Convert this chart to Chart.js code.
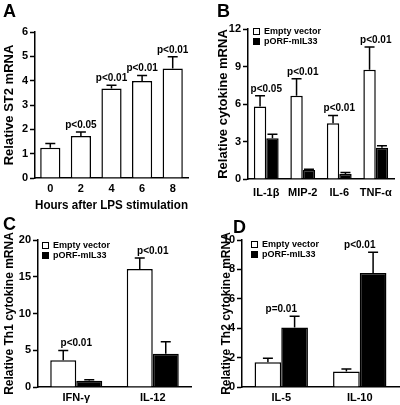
<!DOCTYPE html>
<html>
<head>
<meta charset="utf-8">
<script src="https://cdn.jsdelivr.net/npm/chart.js@4.4.1/dist/chart.umd.min.js"></script>
<style>
  body { margin: 0; background: #fff; }
  #wrap { position: relative; width: 400px; height: 405px; }
  canvas { position: absolute; }
</style>
</head>
<body>
<div id="wrap">
  <canvas id="chartA" width="200" height="215" style="left:0;top:0"></canvas>
  <canvas id="chartB" width="200" height="215" style="left:200px;top:0"></canvas>
  <canvas id="chartC" width="200" height="190" style="left:0;top:215px"></canvas>
  <canvas id="chartD" width="200" height="190" style="left:200px;top:215px"></canvas>
</div>
<script>
const FONT = "'Liberation Sans', Arial, sans-serif";
Chart.defaults.font.family = FONT;
Chart.defaults.color = '#000';

// A - ST2 after LPS
const hours = ['0', '2', '4', '6', '8'];
const st2Mean = [1.24, 1.73, 3.68, 3.99, 4.5];
const st2Err = [0.18, 0.16, 0.13, 0.22, 0.48];
const st2P = ['', 'p<0.05', 'p<0.01', 'p<0.01', 'p<0.01'];

// B - cytokines
const cytokines = ['IL-1β', 'MIP-2', 'IL-6', 'TNF-α'];
const cytEmpty = [5.8, 6.66, 4.47, 8.74];
const cytEmptyErr = [0.86, 1.36, 0.61, 1.82];
const cytOrf = [3.26, 0.72, 0.4, 2.51];
const cytOrfErr = [0.32, 0.06, 0.13, 0.16];
const cytP = ['p<0.05', 'p<0.01', 'p<0.01', 'p<0.01'];

// C - Th1
const th1 = ['IFN-γ', 'IL-12'];
const th1Empty = [3.63, 16.05];
const th1EmptyErr = [1.32, 1.5];
const th1Orf = [0.85, 4.54];
const th1OrfErr = [0.13, 1.6];
const th1P = ['p<0.01', 'p<0.01'];

// D - Th2
const th2 = ['IL-5', 'IL-10'];
const th2Empty = [1.69, 1.06];
const th2EmptyErr = [0.27, 0.16];
const th2Orf = [4.05, 7.75];
const th2OrfErr = [0.77, 1.42];
const th2P = ['p=0.01', 'p<0.01'];

const seriesNames = ['Empty vector', 'pORF-mIL33'];

const errorBars = {
    id: 'errorBars',
    afterDatasetsDraw(chart) {
        const ctx = chart.ctx;
        const yScale = chart.scales.y;
        ctx.save();
        ctx.strokeStyle = '#000';
        ctx.lineWidth = 1.5;
        chart.data.datasets.forEach((ds, di) => {
            chart.getDatasetMeta(di).data.forEach((bar, i) => {
                const top = yScale.getPixelForValue(ds.data[i] + ds.errors[i]);
                ctx.beginPath();
                ctx.moveTo(bar.x, bar.y);
                ctx.lineTo(bar.x, top);
                ctx.moveTo(bar.x - 5, top);
                ctx.lineTo(bar.x + 5, top);
                ctx.stroke();
            });
        });
        ctx.restore();
    }
};

const pValues = {
    id: 'pValues',
    afterDatasetsDraw(chart, args, opts) {
        const ctx = chart.ctx;
        const yScale = chart.scales.y;
        ctx.save();
        ctx.fillStyle = '#000';
        ctx.font = 'bold 10px ' + FONT;
        ctx.textAlign = 'center';
        ctx.textBaseline = 'bottom';
        opts.labels.forEach((txt, i) => {
            if (!txt) return;
            let sumX = 0;
            let top = Infinity;
            chart.data.datasets.forEach((ds, di) => {
                const bar = chart.getDatasetMeta(di).data[i];
                sumX += bar.x;
                top = Math.min(top, yScale.getPixelForValue(ds.data[i] + ds.errors[i]));
            });
            ctx.fillText(txt, sumX / chart.data.datasets.length, top - 2);
        });
        ctx.restore();
    }
};

const panelDeco = {
    id: 'panelDeco',
    afterDraw(chart, args, opts) {
        const ctx = chart.ctx;
        ctx.save();
        ctx.fillStyle = '#000';
        ctx.font = 'bold 18px ' + FONT;
        ctx.textBaseline = 'top';
        ctx.fillText(opts.letter, opts.lx, opts.ly);
        if (opts.legend) {
            const area = chart.chartArea;
            ctx.font = 'bold 9px ' + FONT;
            ctx.textBaseline = 'middle';
            ctx.lineWidth = 1;
            chart.data.datasets.forEach((ds, di) => {
                const bx = area.left + opts.legend.dx;
                const by = area.top + opts.legend.dy + di * 10;
                ctx.fillStyle = ds.backgroundColor;
                ctx.fillRect(bx, by, 7, 7);
                ctx.strokeStyle = '#000';
                ctx.strokeRect(bx + 0.5, by + 0.5, 6, 6);
                ctx.fillStyle = '#000';
                ctx.fillText(ds.label, bx + 11, by + 4);
            });
        }
        ctx.restore();
    }
};

function yAxis(max, step, title, titleSize, width, titlePad) {
    return {
        min: 0,
        max: max,
        ticks: { stepSize: step, font: { size: 11, weight: 'bold' }, padding: 2 },
        grid: { drawOnChartArea: false, drawTicks: true, tickLength: 5, tickColor: '#000', tickWidth: 1.5 },
        border: { display: true, color: '#000', width: 1.5 },
        title: { display: true, text: title, font: { size: titleSize, weight: 'bold' }, padding: { top: titlePad, bottom: 0 } },
        afterFit: axis => { axis.width = width; }
    };
}

function xAxis(height, pad, title) {
    return {
        ticks: { font: { size: 11, weight: 'bold' }, padding: pad, maxRotation: 0, minRotation: 0, autoSkip: false },
        grid: { display: false, drawTicks: false },
        border: { display: true, color: '#000', width: 1.5 },
        title: { display: !!title, text: title || '', font: { size: 13, weight: 'bold' }, padding: { top: 0, bottom: 2 } },
        afterFit: axis => { axis.height = height; }
    };
}

function pairChart(id, labels, empty, emptyErr, orf, orfErr, pLabels, yOpts, xOpts, padding, deco) {
    new Chart(document.getElementById(id), {
        type: 'bar',
        data: {
            labels: labels,
            datasets: [{
                label: seriesNames[0],
                data: empty,
                errors: emptyErr,
                backgroundColor: '#ffffff',
                borderColor: '#000',
                borderWidth: 1.5,
                categoryPercentage: 0.68,
                barPercentage: 1.0
            }, {
                label: seriesNames[1],
                data: orf,
                errors: orfErr,
                backgroundColor: '#000000',
                borderColor: '#000',
                borderWidth: 1.5,
                categoryPercentage: 0.68,
                barPercentage: 1.0
            }]
        },
        options: {
            responsive: false,
            animation: false,
            layout: { padding: padding },
            plugins: {
                legend: { display: false },
                tooltip: { enabled: false },
                pValues: { labels: pLabels },
                panelDeco: deco
            },
            scales: { x: xOpts, y: yOpts }
        },
        plugins: [errorBars, pValues, panelDeco]
    });
}

new Chart(document.getElementById('chartA'), {
    type: 'bar',
    data: {
        labels: hours,
        datasets: [{
            label: 'ST2',
            data: st2Mean,
            errors: st2Err,
            backgroundColor: '#ffffff',
            borderColor: '#000',
            borderWidth: 1.5,
            categoryPercentage: 0.66,
            barPercentage: 1.0
        }]
    },
    options: {
        responsive: false,
        animation: false,
        layout: { padding: { top: 32, right: 12, left: 0, bottom: 0 } },
        plugins: {
            legend: { display: false },
            tooltip: { enabled: false },
            pValues: { labels: st2P },
            panelDeco: { letter: 'A', lx: 3, ly: 3 }
        },
        scales: {
            x: xAxis(37, 4, 'Hours after LPS stimulation'),
            y: yAxis(6, 1, 'Relative ST2 mRNA', 13, 35, 2)
        }
    },
    plugins: [errorBars, pValues, panelDeco]
});

pairChart('chartB', cytokines, cytEmpty, cytEmptyErr, cytOrf, cytOrfErr, cytP,
    yAxis(12, 3, 'Relative cytokine mRNA', 13, 48, 16), xAxis(36, 7),
    { top: 29, right: 6, left: 0, bottom: 0 },
    { letter: 'B', lx: 17, ly: 3, legend: { dx: 5, dy: -1 } });

pairChart('chartC', th1, th1Empty, th1EmptyErr, th1Orf, th1OrfErr, th1P,
    yAxis(20, 5, 'Relative Th1 cytokine mRNA', 12, 38, 2), xAxis(18, 4),
    { top: 25, right: 9, left: 0, bottom: 0 },
    { letter: 'C', lx: 3, ly: 1, legend: { dx: 4, dy: 2 } });

pairChart('chartD', th2, th2Empty, th2EmptyErr, th2Orf, th2OrfErr, th2P,
    yAxis(10, 2, 'Relative Th2 cytokine mRNA', 12, 42, 19), xAxis(18, 4),
    { top: 25, right: 1, left: 0, bottom: 0 },
    { letter: 'D', lx: 33, ly: 4, legend: { dx: 9, dy: 1 } });
</script>
</body>
</html>
